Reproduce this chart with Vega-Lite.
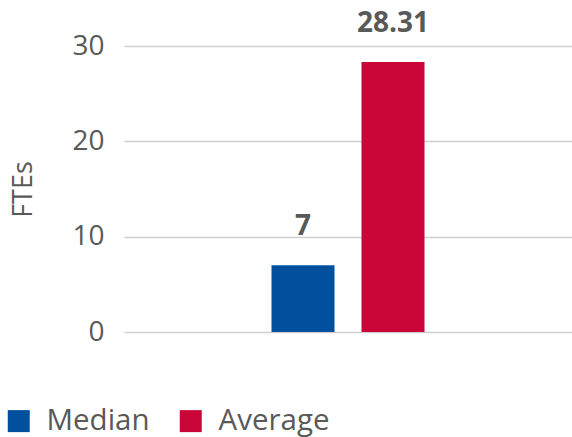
{
  "$schema": "https://vega.github.io/schema/vega-lite/v6.json",
  "width": 448,
  "height": 286,
  "autosize": {"type": "none"},
  "padding": {"left": 124, "top": 46, "right": 0, "bottom": 105},
  "background": "white",
  "config": {
    "view": {"stroke": null},
    "font": "Open Sans"
  },
  "data": {
    "values": [
      {"group": "FTEs", "stat": "Median", "value": 7, "label": "7"},
      {"group": "FTEs", "stat": "Average", "value": 28.31, "label": "28.31"}
    ]
  },
  "encoding": {
    "x": {
      "field": "group",
      "type": "nominal",
      "scale": {"paddingInner": 0, "paddingOuter": 0.964},
      "axis": null
    },
    "xOffset": {
      "field": "stat",
      "type": "nominal",
      "sort": ["Median", "Average"],
      "scale": {"paddingInner": 0.3, "paddingOuter": 0}
    },
    "y": {
      "field": "value",
      "type": "quantitative",
      "scale": {"domain": [0, 30], "nice": false},
      "axis": {
        "title": "FTEs",
        "titleFont": "Open Sans",
        "titleFontSize": 27,
        "titleFontWeight": "normal",
        "titleColor": "#595959",
        "titlePadding": 34,
        "values": [0, 10, 20, 30],
        "labelFont": "Open Sans",
        "labelFontSize": 28,
        "labelColor": "#595959",
        "labelPadding": 20,
        "domain": false,
        "ticks": false,
        "grid": true,
        "gridColor": "#d0d0d0",
        "gridWidth": 1.5
      }
    }
  },
  "layer": [
    {
      "mark": {"type": "bar"},
      "encoding": {
        "color": {
          "field": "stat",
          "type": "nominal",
          "sort": ["Median", "Average"],
          "scale": {"domain": ["Median", "Average"], "range": ["#00509E", "#CA0538"]},
          "legend": {
            "title": null,
            "orient": "none",
            "legendX": -120,
            "legendY": 360,
            "direction": "horizontal",
            "symbolType": "square",
            "symbolSize": 484,
            "symbolStrokeWidth": 0,
            "labelFont": "Open Sans",
            "labelFontSize": 29.5,
            "labelColor": "#595959",
            "labelOffset": 13,
            "columnPadding": 26
          }
        }
      }
    },
    {
      "mark": {
        "type": "text",
        "baseline": "alphabetic",
        "dy": -30,
        "font": "Open Sans",
        "fontSize": 28,
        "fontWeight": "bold",
        "color": "#595959"
      },
      "encoding": {
        "text": {"field": "label", "type": "nominal"}
      }
    }
  ]
}
